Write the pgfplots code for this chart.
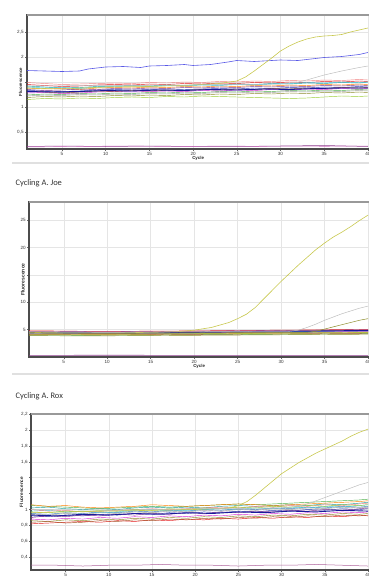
\documentclass[border=0pt]{standalone}
\usepackage{pgfplots}
\pgfplotsset{compat=1.18}
\usepackage{pgfplotstable}
\usepackage{fontspec}
\setmainfont{Liberation Sans}
\newfontfamily\titlefont{Carlito}

% run colours
\definecolor{r1}{HTML}{E41A1C}
\definecolor{r2}{HTML}{377EB8}
\definecolor{r3}{HTML}{2B3BB0}
\definecolor{r4}{HTML}{4DAF4A}
\definecolor{r5}{HTML}{1B9E9E}
\definecolor{r6}{HTML}{FF7F00}
\definecolor{r7}{HTML}{D62ED6}
\definecolor{r8}{HTML}{7B3294}
\definecolor{r9}{HTML}{8C8C2A}
\definecolor{r10}{HTML}{40C8E0}
\definecolor{r11}{HTML}{A65628}
\definecolor{r12}{HTML}{F08080}
\definecolor{r13}{HTML}{A0A0A0}
\definecolor{r14}{HTML}{9ACD32}
\definecolor{ampl}{HTML}{C8C84E}
\definecolor{lateg}{HTML}{BDBDBD}
\definecolor{highb}{HTML}{5A5AE6}
\definecolor{ntc}{HTML}{8B3A8B}
\definecolor{ntcb}{HTML}{D070C0}
\definecolor{darkrun}{HTML}{1A1A9A}

% FAM channel, baseline runs
\pgfplotstableread{
cyc a b c d e f g h i j k l m n
1  1.45 1.30 1.33 1.24 1.42 1.38 1.28 1.35 1.19 1.40 1.31 1.49 1.22 1.15
3  1.43 1.31 1.32 1.26 1.40 1.36 1.29 1.33 1.21 1.38 1.30 1.47 1.24 1.17
5  1.41 1.29 1.31 1.25 1.38 1.37 1.27 1.34 1.20 1.39 1.28 1.45 1.23 1.16
7  1.42 1.30 1.32 1.27 1.39 1.35 1.28 1.36 1.22 1.37 1.30 1.46 1.25 1.18
9  1.44 1.32 1.34 1.26 1.41 1.38 1.30 1.35 1.21 1.40 1.32 1.47 1.24 1.17
11 1.45 1.33 1.35 1.28 1.42 1.39 1.31 1.37 1.23 1.41 1.31 1.48 1.26 1.19
13 1.44 1.32 1.34 1.27 1.43 1.38 1.30 1.36 1.22 1.42 1.33 1.47 1.25 1.20
15 1.46 1.34 1.35 1.29 1.42 1.40 1.31 1.38 1.24 1.41 1.32 1.49 1.27 1.19
17 1.45 1.33 1.36 1.28 1.44 1.39 1.32 1.37 1.23 1.43 1.34 1.48 1.26 1.21
19 1.47 1.34 1.35 1.30 1.43 1.41 1.31 1.39 1.25 1.42 1.33 1.50 1.28 1.20
21 1.46 1.35 1.36 1.29 1.45 1.40 1.33 1.38 1.24 1.44 1.35 1.49 1.27 1.22
23 1.48 1.34 1.37 1.31 1.44 1.42 1.32 1.40 1.26 1.43 1.34 1.51 1.29 1.21
25 1.47 1.36 1.36 1.30 1.46 1.41 1.34 1.39 1.25 1.45 1.36 1.50 1.28 1.20
27 1.49 1.35 1.38 1.32 1.45 1.43 1.33 1.41 1.27 1.44 1.35 1.52 1.30 1.19
29 1.48 1.37 1.37 1.31 1.47 1.42 1.35 1.40 1.26 1.46 1.37 1.51 1.29 1.18
31 1.50 1.36 1.39 1.33 1.46 1.44 1.34 1.42 1.28 1.47 1.36 1.53 1.31 1.17
33 1.49 1.38 1.38 1.32 1.48 1.43 1.36 1.41 1.27 1.49 1.38 1.52 1.30 1.18
35 1.51 1.37 1.40 1.34 1.47 1.45 1.35 1.43 1.29 1.48 1.37 1.54 1.32 1.20
37 1.50 1.39 1.39 1.33 1.49 1.44 1.37 1.42 1.28 1.50 1.39 1.53 1.31 1.22
39 1.52 1.38 1.41 1.35 1.48 1.46 1.36 1.44 1.30 1.49 1.38 1.55 1.33 1.21
40 1.51 1.39 1.40 1.34 1.50 1.45 1.37 1.43 1.29 1.50 1.39 1.54 1.32 1.22
}\famtab

% Joe channel, baseline runs
\pgfplotstableread{
cyc a b c d e f g h i j k l m n
1  4.80 4.30 4.50 4.00 4.60 4.20 4.40 4.70 3.90 4.50 4.10 4.60 4.30 4.20
4  4.75 4.28 4.46 3.98 4.55 4.18 4.36 4.66 3.88 4.46 4.08 4.57 4.27 4.17
7  4.70 4.25 4.42 3.96 4.52 4.15 4.33 4.62 3.86 4.43 4.06 4.55 4.24 4.15
10 4.68 4.24 4.40 3.97 4.50 4.14 4.32 4.60 3.87 4.42 4.05 4.54 4.23 4.16
13 4.70 4.26 4.42 3.99 4.53 4.17 4.34 4.63 3.89 4.45 4.07 4.57 4.26 4.18
16 4.73 4.29 4.45 4.02 4.56 4.20 4.37 4.66 3.92 4.48 4.10 4.60 4.29 4.21
19 4.76 4.32 4.48 4.05 4.59 4.23 4.40 4.69 3.95 4.51 4.13 4.63 4.32 4.24
22 4.80 4.36 4.52 4.08 4.63 4.27 4.44 4.73 3.98 4.55 4.16 4.67 4.36 4.27
25 4.84 4.40 4.56 4.11 4.67 4.31 4.48 4.77 4.01 4.59 4.19 4.71 4.40 4.30
28 4.88 4.44 4.60 4.14 4.71 4.35 4.52 4.81 4.04 4.63 4.22 4.75 4.44 4.33
31 4.92 4.48 4.64 4.17 4.75 4.39 4.56 4.85 4.07 4.67 4.25 4.79 4.48 4.36
34 4.96 4.52 4.68 4.20 4.79 4.43 4.60 4.89 4.10 4.71 4.28 4.83 4.52 4.39
37 5.00 4.56 4.72 4.23 4.83 4.47 4.64 4.93 4.13 4.75 4.31 4.87 4.56 4.42
40 5.04 4.60 4.76 4.26 4.87 4.51 4.68 4.97 4.16 4.79 4.34 4.91 4.60 4.45
}\joetab

% Rox channel, baseline runs
\pgfplotstableread{
cyc a b c d e f g h i j k l m n
1  0.82 0.95 0.92 1.05 1.02 1.06 0.88 0.90 0.86 0.98 0.84 1.00 0.94 0.97
3  0.83 0.94 0.91 1.04 1.03 1.04 0.87 0.92 0.85 0.99 0.85 0.98 0.93 0.96
5  0.84 0.96 0.93 1.03 1.01 1.05 0.89 0.91 0.87 0.97 0.83 0.99 0.95 0.98
7  0.85 0.95 0.92 1.02 1.00 1.03 0.88 0.93 0.86 0.98 0.84 0.97 0.94 0.97
9  0.84 0.97 0.94 1.01 1.01 1.02 0.90 0.92 0.88 0.96 0.86 0.98 0.96 0.99
11 0.86 0.96 0.93 1.02 1.00 1.03 0.89 0.94 0.87 0.97 0.85 0.99 0.95 0.98
13 0.85 0.98 0.95 1.03 1.02 1.04 0.91 0.93 0.89 0.99 0.87 1.00 0.97 1.00
15 0.87 0.97 0.94 1.04 1.03 1.06 0.90 0.95 0.88 1.00 0.86 1.01 0.96 0.99
17 0.86 0.99 0.96 1.03 1.02 1.05 0.92 0.94 0.90 0.98 0.88 1.00 0.98 1.01
19 0.88 0.98 0.95 1.04 1.03 1.04 0.91 0.96 0.89 0.99 0.87 1.01 0.97 1.00
21 0.87 1.00 0.97 1.05 1.02 1.05 0.93 0.95 0.91 1.00 0.89 1.02 0.99 1.02
23 0.89 0.99 0.96 1.06 1.04 1.06 0.92 0.97 0.90 1.01 0.88 1.03 0.98 1.01
25 0.88 1.01 0.98 1.07 1.05 1.07 0.94 0.96 0.92 1.00 0.90 1.02 1.00 1.03
27 0.90 1.00 0.97 1.06 1.04 1.06 0.93 0.98 0.91 1.02 0.89 1.04 0.99 1.02
29 0.89 1.02 0.99 1.07 1.05 1.05 0.95 0.97 0.93 1.01 0.91 1.03 1.01 1.04
31 0.91 1.01 0.98 1.08 1.06 1.06 0.94 0.99 0.92 1.03 0.90 1.05 1.00 1.03
33 0.90 1.03 1.00 1.09 1.05 1.07 0.96 0.98 0.94 1.02 0.92 1.04 1.02 1.05
35 0.92 1.02 0.99 1.10 1.07 1.08 0.95 1.00 0.93 1.04 0.91 1.06 1.01 1.04
37 0.91 1.04 1.01 1.11 1.06 1.09 0.97 0.99 0.95 1.03 0.93 1.05 1.03 1.06
39 0.93 1.03 1.00 1.12 1.08 1.10 0.96 1.01 0.94 1.05 0.92 1.07 1.02 1.05
40 0.92 1.04 1.01 1.13 1.09 1.11 0.97 1.02 0.95 1.06 0.93 1.08 1.03 1.06
}\roxtab

\pgfplotscreateplotcyclelist{runs}{{r1},{r2},{r3},{r4},{r5},{r6},{r7},{r8},{r9},{r10},{r11},{r12},{r13},{r14}}

\newcommand\lblfont{\bfseries\fontsize{4.4}{5}\selectfont}

\pgfplotsset{
  qpcr/.style={
    scale only axis,
    xmin=1, xmax=40.15,
    xtick={5,10,15,20,25,30,35,40},
    xticklabels={5,10,15,20,25,30,35,40},
    grid=major,
    grid style={draw=black!10, line width=0.4bp},
    axis line style={draw=black!70, line width=1.1bp},
    tick style={draw=black!60, line width=0.4bp},
    tick align=outside, major tick length=2bp,
    xtick pos=bottom, ytick pos=left,
    ticklabel style={font=\fontsize{4.6}{5}\selectfont, text=black!80, inner sep=1.2bp},
    xlabel={Cycle}, ylabel={Fluorescence},
    every axis x label/.style={at={(axis description cs:0.5,0)}, anchor=north, yshift=-7.5bp,
      inner sep=0pt, font=\lblfont, text=black!85},
    cycle list name=runs,
    every axis plot/.append style={line width=0.45bp, mark=none},
    % lighter upper edge of the frame
    after end axis/.code={\draw[black!40, line width=1.1bp] (rel axis cs:0,1) -- (rel axis cs:1,1);},
  }
}

\begin{document}
\begin{tikzpicture}
\useasboundingbox (0,0) rectangle (369bp,-580bp);
\clip (0,0) rectangle (369bp,-580bp);

% ---------- FAM ----------
\begin{axis}[qpcr,
  at={(27bp,-15bp)}, anchor=north west,
  width=342.2bp, height=134bp,
  ymin=0.16, ymax=2.84,
  ytick={0.5,1,1.5,2,2.5},
  yticklabels={{0,5},1,{},2,{2,5}},
  every axis y label/.style={at={(axis description cs:-0.019,0.5)}, rotate=90, anchor=center,
    inner sep=0pt, font=\lblfont, text=black!85},
]
\pgfplotsinvokeforeach{1,...,14}{\addplot table[x index=0, y index=#1] {\famtab};}
\addplot[darkrun, line width=0.9bp] coordinates {(1,1.31) (4,1.30) (7,1.31) (10,1.33) (13,1.32) (16,1.34) (19,1.33) (22,1.35) (25,1.34) (28,1.36) (31,1.35) (34,1.37) (37,1.38) (40,1.38)};
\addplot[highb, line width=0.6bp] coordinates {(1,1.73) (3,1.72) (5,1.71) (7,1.72) (8,1.76) (10,1.80) (12,1.81) (14,1.79) (15,1.82) (17,1.83) (19,1.85) (20,1.83) (22,1.85) (24,1.90) (25,1.93) (27,1.91) (29,1.93) (30,1.94) (32,1.93) (34,1.97) (35,1.99) (37,2.01) (39,2.05) (40,2.09)};
\addplot[ampl, line width=0.6bp] coordinates {(1,1.38) (5,1.36) (10,1.40) (15,1.41) (20,1.44) (23,1.47) (25,1.52) (26,1.60) (27,1.72) (28,1.85) (29,1.98) (30,2.12) (31,2.22) (32,2.30) (33,2.36) (34,2.40) (35,2.42) (36,2.43) (37,2.45) (38,2.50) (39,2.54) (40,2.58)};
\addplot[lateg, line width=0.5bp] coordinates {(1,1.42) (10,1.43) (20,1.44) (30,1.46) (32,1.50) (33,1.54) (35,1.64) (37,1.72) (39,1.79) (40,1.82)};
\addplot[ntc, line width=0.5bp] coordinates {(1,0.21) (5,0.22) (10,0.21) (15,0.22) (20,0.21) (25,0.21) (30,0.22) (35,0.23) (40,0.21)};
\addplot[ntcb, line width=0.4bp] coordinates {(1,0.20) (6,0.21) (12,0.22) (18,0.21) (24,0.22) (29,0.21) (34,0.21) (38,0.22) (40,0.22)};
\end{axis}
\draw[black!12, line width=1.2bp] (12bp,-163bp) -- (369bp,-163bp);

% ---------- Joe ----------
\node[anchor=base west, font=\titlefont\fontsize{8.5}{9}\selectfont, text=black!80] at (12bp,-185bp) {Cycling A. Joe};
\begin{axis}[qpcr,
  at={(29bp,-202bp)}, anchor=north west,
  width=340.3bp, height=155bp,
  ymin=0, ymax=28.3,
  ytick={5,10,15,20,25},
  yticklabels={5,10,{},20,25},
  every axis y label/.style={at={(axis description cs:-0.018,0.5)}, rotate=90, anchor=center,
    inner sep=0pt, font=\bfseries\fontsize{5}{6}\selectfont, text=black!85},
]
\pgfplotsinvokeforeach{1,...,14}{\addplot table[x index=0, y index=#1] {\joetab};}
\addplot[darkrun, line width=0.9bp] coordinates {(1,4.45) (10,4.38) (20,4.50) (30,4.68) (40,4.85)};
\addplot[ampl, line width=0.6bp] coordinates {(1,4.5) (5,4.4) (10,4.4) (15,4.5) (18,4.6) (20,4.9) (22,5.4) (24,6.3) (25,7.0) (26,7.8) (27,9.0) (28,10.6) (29,12.2) (30,13.8) (31,15.3) (32,16.8) (33,18.2) (34,19.6) (35,20.8) (36,21.9) (37,22.8) (38,23.8) (39,24.9) (40,25.9)};
\addplot[lateg, line width=0.5bp] coordinates {(1,4.6) (10,4.5) (20,4.6) (31,4.7) (32,4.9) (33,5.4) (34,6.0) (35,6.7) (36,7.3) (37,7.9) (38,8.4) (39,8.9) (40,9.3)};
\addplot[r9, line width=0.5bp] coordinates {(1,4.4) (10,4.3) (20,4.4) (33,4.5) (34,4.7) (35,5.1) (36,5.5) (37,5.9) (38,6.3) (39,6.7) (40,7.0)};
\addplot[ntc, line width=0.6bp] coordinates {(1,0.30) (10,0.32) (20,0.30) (30,0.31) (40,0.30)};
\end{axis}
\draw[black!12, line width=1.2bp] (12bp,-374bp) -- (369bp,-374bp);

% ---------- Rox ----------
\node[anchor=base west, font=\titlefont\fontsize{8.5}{9}\selectfont, text=black!80] at (12bp,-398bp) {Cycling A. Rox};
\begin{axis}[qpcr,
  at={(31bp,-414bp)}, anchor=north west,
  width=338.3bp, height=156bp,
  xlabel={},
  ymin=0.24, ymax=2.2,
  ytick={0.4,0.6,0.8,1,1.2,1.4,1.6,1.8,2,2.2},
  yticklabels={{0,4},{0,6},{0,8},1,{},{},{1,6},{1,8},2,{2,2}},
  every axis y label/.style={at={(axis description cs:-0.028,0.5)}, rotate=90, anchor=center,
    inner sep=0pt, font=\bfseries\fontsize{4.7}{5}\selectfont, text=black!85},
]
\pgfplotsinvokeforeach{1,...,14}{\addplot table[x index=0, y index=#1] {\roxtab};}
\addplot[darkrun, line width=0.9bp] coordinates {(1,0.93) (4,0.92) (7,0.94) (10,0.93) (13,0.95) (16,0.94) (19,0.96) (22,0.95) (25,0.97) (28,0.96) (31,0.98) (34,0.97) (37,0.99) (40,0.98)};
\addplot[ampl, line width=0.6bp] coordinates {(1,0.96) (5,0.97) (10,0.98) (15,0.99) (20,1.00) (24,1.02) (25,1.05) (26,1.10) (27,1.18) (28,1.27) (29,1.36) (30,1.45) (31,1.52) (32,1.59) (33,1.65) (34,1.71) (35,1.76) (36,1.81) (37,1.86) (38,1.92) (39,1.97) (40,2.01)};
\addplot[lateg, line width=0.5bp] coordinates {(1,1.00) (10,0.99) (20,1.01) (30,1.02) (32,1.04) (33,1.07) (34,1.11) (35,1.15) (36,1.19) (37,1.23) (38,1.27) (39,1.31) (40,1.34)};
\addplot[ntc!70!pink, line width=0.5bp] coordinates {(1,0.30) (4,0.30) (7,0.29) (10,0.30) (13,0.30) (16,0.31) (19,0.30) (22,0.30) (25,0.29) (28,0.30) (31,0.30) (34,0.31) (37,0.30) (40,0.29)};
\end{axis}
\end{tikzpicture}
\end{document}
